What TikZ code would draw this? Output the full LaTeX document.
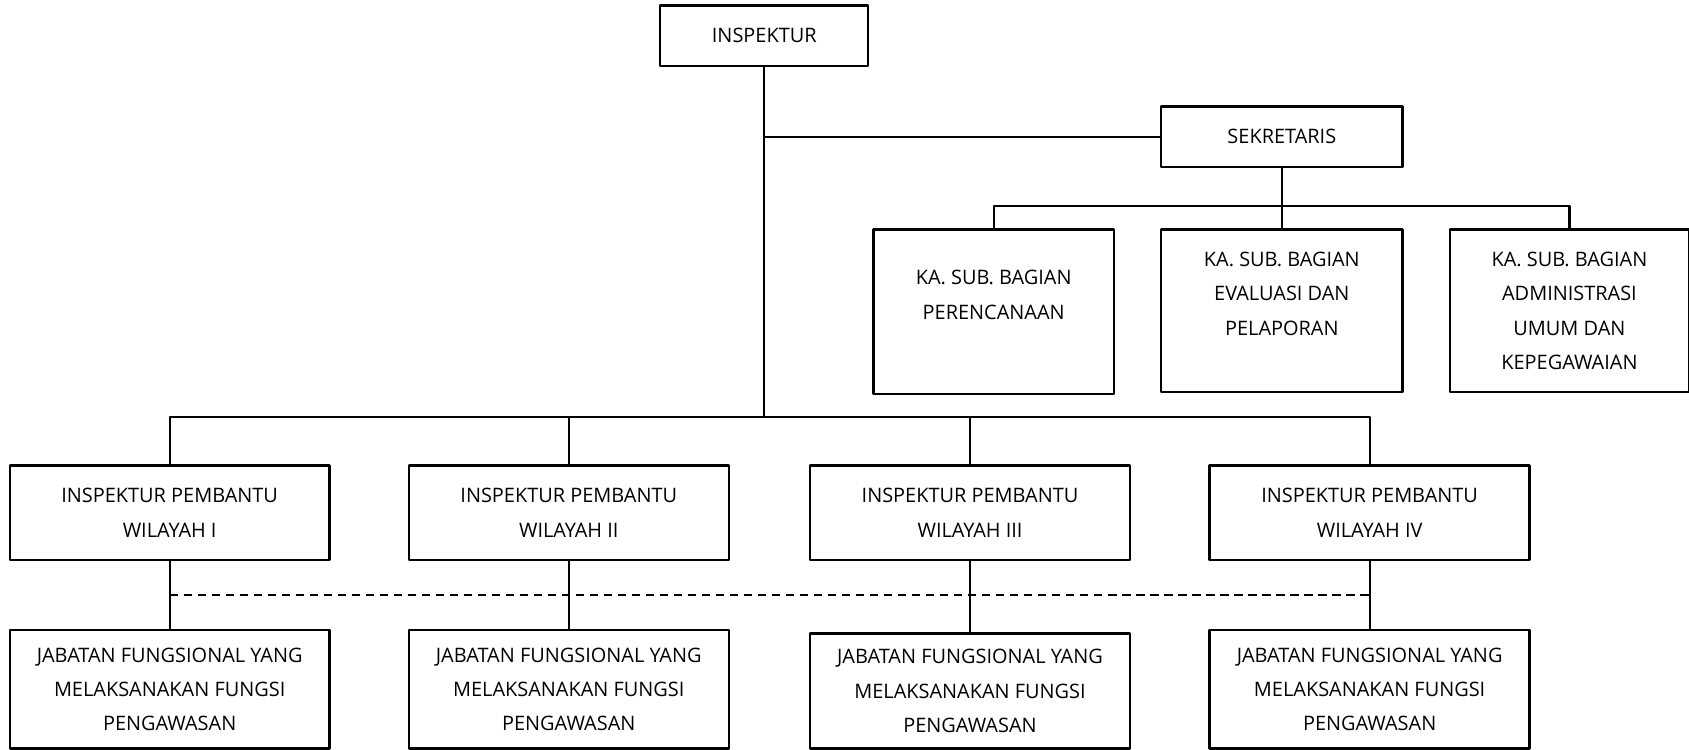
\documentclass[tikz,border=0pt]{standalone}
\usepackage{fontspec}
\setmainfont{Open Sans}
\usetikzlibrary{calc}
\begin{document}
\begin{tikzpicture}[x=1pt,y=-1pt,line cap=round,line join=round,
	box/.style={draw,line width=2.2pt,align=center,inner sep=0pt,font=\fontsize{18.5}{32}\selectfont},
	link/.style={line width=2pt}]
		\useasboundingbox (0,0) rectangle (1568,696);
		\node[box,minimum width=193pt,minimum height=56pt] (insp) at (709.5,33) {INSPEKTUR};
		\node[box,minimum width=224pt,minimum height=56pt] (sekr) at (1190,127) {SEKRETARIS};
		\node[box,minimum width=223pt,minimum height=153pt] (ka1) at (922.5,289.5) {KA. SUB. BAGIAN\\PERENCANAAN\\~};
		\node[box,minimum width=224pt,minimum height=151pt] (ka2) at (1190,288.5) {KA. SUB. BAGIAN\\EVALUASI DAN\\PELAPORAN\\~};
		\node[box,minimum width=222pt,minimum height=151pt] (ka3) at (1457,288.5) {KA. SUB. BAGIAN\\ADMINISTRASI\\UMUM DAN\\KEPEGAWAIAN};
		\node[box,minimum width=297pt,minimum height=88pt] (ip1) at (157.5,476) {INSPEKTUR PEMBANTU\\WILAYAH I};
		\node[box,minimum width=297pt,minimum height=88pt] (ip2) at (528,476) {INSPEKTUR PEMBANTU\\WILAYAH II};
		\node[box,minimum width=297pt,minimum height=88pt] (ip3) at (900.5,476) {INSPEKTUR PEMBANTU\\WILAYAH III};
		\node[box,minimum width=297pt,minimum height=88pt] (ip4) at (1271.5,476) {INSPEKTUR PEMBANTU\\WILAYAH IV};
		\node[box,minimum width=297pt,minimum height=110pt] (jf1) at (157.5,640) {JABATAN FUNGSIONAL YANG\\MELAKSANAKAN FUNGSI\\PENGAWASAN};
		\node[box,minimum width=297pt,minimum height=110pt] (jf2) at (528,640) {JABATAN FUNGSIONAL YANG\\MELAKSANAKAN FUNGSI\\PENGAWASAN};
		\node[box,minimum width=297pt,minimum height=107pt] (jf3) at (900.5,641.5) {JABATAN FUNGSIONAL YANG\\MELAKSANAKAN FUNGSI\\PENGAWASAN};
		\node[box,minimum width=297pt,minimum height=110pt] (jf4) at (1271.5,640) {JABATAN FUNGSIONAL YANG\\MELAKSANAKAN FUNGSI\\PENGAWASAN};
		\coordinate (bus) at (709.5,387);
		\coordinate (kabus) at (1190,191);
		\draw[link] (insp.south) -- (bus);
		\draw[link] (insp.south |- sekr.west) -- (sekr.west);
		\draw[link] (ip1.north) |- (bus) -| (ip4.north);
		\draw[link] (ip2.north) -- (ip2.north |- bus);
		\draw[link] (ip3.north) -- (ip3.north |- bus);
		\draw[link] (sekr.south) -- (ka2.north);
		\draw[link] (ka1.north) |- (kabus) -| (ka3.north);
		\foreach \i in {1,...,4}
			\draw[link] (ip\i.south) -- (jf\i.north);
		\draw[link,line cap=butt,dash pattern=on 8pt off 5pt] (ip1.south |- 0,552) -- (ip4.south |- 0,552);
\end{tikzpicture}
\end{document}
